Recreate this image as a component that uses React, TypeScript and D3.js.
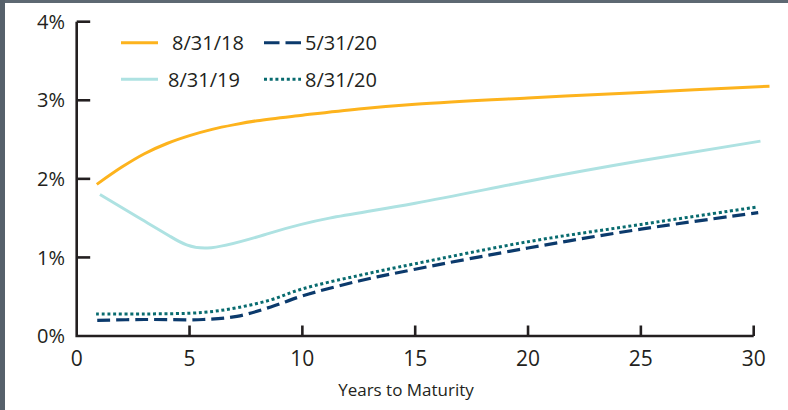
import React from "react";
import * as d3 from "d3";

const yTicks = [0, 1, 2, 3, 4];
const xTicks = [0, 5, 10, 15, 20, 25, 30];

const years18 = [0.89, 2.0, 3.0, 4.0, 5.0, 6.0, 7.0, 8.0, 10.0, 12.5, 15.0, 20.0, 25.0, 30.7];
const rates18 = [1.93, 2.15, 2.32, 2.45, 2.55, 2.63, 2.69, 2.74, 2.81, 2.89, 2.95, 3.03, 3.1, 3.18];

const years19 = [1.03, 2.66, 4.13, 5.8, 8.56, 11.2, 15.0, 20.0, 25.0, 30.3];
const rates19 = [1.8, 1.52, 1.27, 1.12, 1.31, 1.5, 1.69, 1.97, 2.23, 2.48];

const yearsMay20 = [0.91, 3.0, 5.6, 7.1, 8.6, 10.0, 12.5, 15.0, 20.0, 25.0, 30.2];
const ratesMay20 = [0.2, 0.21, 0.21, 0.25, 0.37, 0.51, 0.7, 0.85, 1.12, 1.36, 1.57];

const yearsAug20 = [0.86, 3.0, 5.6, 7.1, 8.6, 10.0, 12.5, 15.0, 20.0, 25.0, 30.1];
const ratesAug20 = [0.28, 0.28, 0.3, 0.36, 0.46, 0.6, 0.77, 0.92, 1.2, 1.42, 1.64];

const seriesNames = ["8/31/18", "8/31/19", "5/31/20", "8/31/20"];

const W = 788;
const H = 410;
const FONT = "'Open Sans', sans-serif";
const INK = "#231f20";

export default function App() {
  const x = d3.scaleLinear().domain([0, 30]).range([76.7, 753.7]);
  const y = d3.scaleLinear().domain([0, 4]).range([336, 21.7]);
  const mk = (curve: d3.CurveFactory) =>
    d3
      .line<[number, number]>()
      .x((d) => x(d[0]))
      .y((d) => y(d[1]))
      .curve(curve);
  const catmull = mk(d3.curveCatmullRom.alpha(0.5));
  const natural = mk(d3.curveNatural);

  const zip = (a: number[], b: number[]) => a.map((v, i) => [v, b[i]] as [number, number]);

  const series = [
    { name: seriesNames[0], pts: zip(years18, rates18), color: "#fdb31d", dash: undefined, w: 3, gen: catmull },
    { name: seriesNames[1], pts: zip(years19, rates19), color: "#aee2e2", dash: undefined, w: 3, gen: natural },
    { name: seriesNames[2], pts: zip(yearsMay20, ratesMay20), color: "#0b3a6c", dash: "13,6", w: 3.2, gen: catmull },
    { name: seriesNames[3], pts: zip(yearsAug20, ratesAug20), color: "#086b6f", dash: "3,2.7", w: 3, gen: catmull },
  ];

  const legend = [
    { s: series[0], lx: 121, ty: 42.7, tx: 172, dash: undefined },
    { s: series[1], lx: 121, ty: 79.3, tx: 168, dash: undefined },
    { s: series[2], lx: 264, ty: 42.7, tx: 305, dash: "15.5,6" },
    { s: series[3], lx: 264, ty: 79.3, tx: 305, dash: "3,2.7" },
  ];

  const x0 = x(0);
  const y0 = y(0);

  return (
    <svg
      width={W}
      height={H}
      style={{ position: "absolute", left: 0, top: 0, background: "#ffffff" }}
    >
      <rect x={0} y={0} width={W} height={3} fill="#5d6872" />
      <rect x={0} y={0} width={5} height={H} fill="#56616b" />

      {/* axes */}
      <path
        d={`M${x0},${y(4)}V${y0}H${x(30)}`}
        fill="none"
        stroke={INK}
        strokeWidth={2.6}
      />
      {yTicks.map((t) => (
        <g key={"y" + t}>
          {t > 0 && (
            <line x1={x0} x2={x0 + 13.5} y1={y(t)} y2={y(t)} stroke={INK} strokeWidth={2.6} />
          )}
          <text
            x={65}
            y={y(t)}
            dy="0.36em"
            textAnchor="end"
            fontFamily={FONT}
            fontSize={20}
            fill={INK}
          >
            {t + "%"}
          </text>
        </g>
      ))}
      {xTicks.map((t) => (
        <g key={"x" + t}>
          {t > 0 && (
            <line x1={x(t)} x2={x(t)} y1={y0} y2={y0 - 10.5} stroke={INK} strokeWidth={2.6} />
          )}
          <text
            x={x(t)}
            y={366}
            textAnchor="middle"
            fontFamily={FONT}
            fontSize={21}
            fill={INK}
          >
            {t}
          </text>
        </g>
      ))}
      <text
        x={406}
        y={396}
        textAnchor="middle"
        fontFamily={FONT}
        fontSize={17}
        fill={INK}
      >
        Years to Maturity
      </text>

      {/* series */}
      {series.map((s) => (
        <path
          key={s.name}
          d={s.gen(s.pts) || ""}
          fill="none"
          stroke={s.color}
          strokeWidth={s.w}
          strokeDasharray={s.dash}
        />
      ))}

      {/* legend */}
      {legend.map((l) => (
        <g key={"lg" + l.s.name}>
          <line
            x1={l.lx}
            x2={l.lx + 37}
            y1={l.ty}
            y2={l.ty}
            stroke={l.s.color}
            strokeWidth={3}
            strokeDasharray={l.dash}
          />
          <text x={l.tx} y={l.ty} dy="0.36em" fontFamily={FONT} fontSize={20} fill={INK}>
            {l.s.name}
          </text>
        </g>
      ))}
    </svg>
  );
}
